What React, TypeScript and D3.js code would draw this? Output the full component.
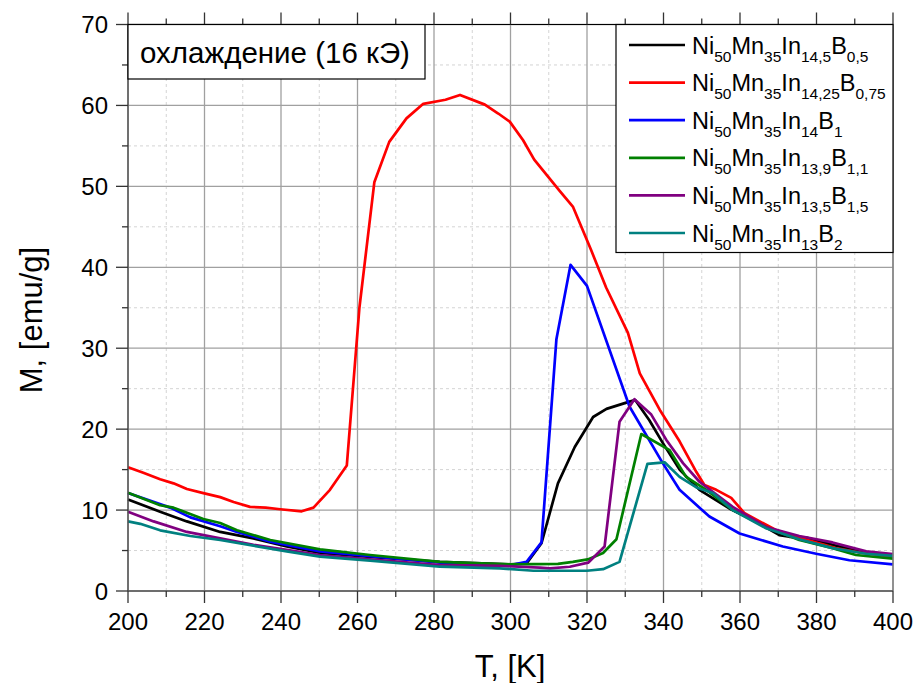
import React from "react";
import * as d3 from "d3";

const xTicks = [200, 220, 240, 260, 280, 300, 320, 340, 360, 380, 400];
const yTicks = [0, 10, 20, 30, 40, 50, 60, 70];

const tBlack = [200, 208.4, 215.4, 224.1, 232.8, 241.5, 250.2, 263.3, 281.5, 300, 304.2, 308.1, 312.4, 316.8, 321.6, 325.1, 331.1, 332.6, 336.3, 339.8, 344.2, 349.4, 357.2, 363.3, 370.3, 372.9, 377.3, 384.2, 391.2, 400];
const mBlack = [11.3, 9.8, 8.6, 7.3, 6.5, 5.5, 4.7, 4.2, 3.6, 3.3, 3.4, 5.9, 13.3, 17.8, 21.5, 22.5, 23.4, 23.6, 21.1, 18.3, 15.0, 12.5, 10.2, 8.8, 6.9, 6.7, 6.6, 5.7, 4.9, 4.3];

const tRed = [200, 204, 208.4, 211.9, 215.4, 219.7, 224.1, 227.6, 231.9, 236, 239.8, 245.4, 248.5, 252.8, 257.2, 260.5, 264.4, 268.3, 272.8, 277.2, 283, 286.8, 293.3, 296.8, 299.8, 303.3, 306.2, 312.9, 316.3, 321.1, 325, 330.7, 333.8, 339, 344.2, 348.6, 350.7, 353.8, 357.7, 361.2, 369.5, 377, 385, 392, 400];
const mRed = [15.3, 14.6, 13.8, 13.3, 12.6, 12.1, 11.6, 11.0, 10.4, 10.3, 10.1, 9.85, 10.3, 12.5, 15.5, 35.0, 50.5, 55.5, 58.4, 60.2, 60.7, 61.3, 60.1, 59.0, 58.0, 55.7, 53.3, 49.4, 47.5, 42.1, 37.5, 31.9, 26.9, 22.4, 18.5, 14.7, 13.1, 12.5, 11.5, 9.6, 7.5, 6.4, 5.3, 4.7, 4.2];

const tBlue = [200, 211, 216.3, 224.1, 228.5, 237.2, 250.2, 263.3, 281.5, 300, 304.2, 308.1, 312, 315.7, 320, 331.1, 339.8, 344.2, 352, 359.9, 371.2, 379.9, 388.6, 400];
const mBlue = [12.1, 10.3, 9.1, 8.0, 7.3, 6.1, 4.9, 4.3, 3.5, 3.2, 3.6, 6.0, 31.1, 40.3, 37.7, 22.8, 15.8, 12.5, 9.2, 7.1, 5.5, 4.6, 3.8, 3.3];

const tGreen = [200, 208.4, 211.9, 219.7, 224.1, 228.5, 237.2, 250.2, 263.3, 281.5, 299.8, 312.4, 316.3, 320.2, 324.2, 327.7, 334.2, 341.6, 345.9, 351.2, 358.1, 366.8, 375.5, 384.2, 390.3, 400];
const mGreen = [12.15, 10.6, 10.3, 8.9, 8.4, 7.5, 6.3, 5.15, 4.45, 3.6, 3.3, 3.35, 3.6, 3.9, 4.7, 6.4, 19.4, 17.4, 14.1, 12.5, 10.0, 7.9, 6.3, 5.3, 4.45, 4.0];

const tPurple = [200, 206.7, 215.4, 224.1, 232.8, 241.5, 250.2, 263.3, 281.5, 297.2, 307.7, 310.3, 315.5, 320.3, 324.6, 328.5, 332.4, 336.8, 340.7, 345.1, 349.4, 358.1, 366.8, 375.5, 384.2, 393, 400];
const mPurple = [9.8, 8.6, 7.3, 6.5, 5.7, 5.1, 4.45, 3.9, 3.2, 3.1, 2.9, 2.8, 3.0, 3.5, 5.5, 20.9, 23.7, 21.8, 18.7, 15.8, 13.5, 10.4, 7.9, 6.8, 6.0, 4.9, 4.55];

const tTeal = [200, 203.2, 208.4, 216.3, 224.1, 232.8, 241.5, 250.2, 263.3, 281.5, 297.2, 306, 320, 324.2, 328.5, 335.8, 340.3, 344.2, 348.6, 352.9, 358.1, 366.8, 375.5, 384.2, 393, 400];
const mTeal = [8.6, 8.3, 7.5, 6.8, 6.3, 5.6, 4.9, 4.25, 3.75, 3.0, 2.8, 2.5, 2.5, 2.7, 3.6, 15.7, 15.9, 14.1, 12.8, 12.1, 10.0, 7.75, 6.4, 5.3, 4.6, 4.35];

const seriesNames: [string, string][][] = [
  [["Ni", "50"], ["Mn", "35"], ["In", "14,5"], ["B", "0,5"]],
  [["Ni", "50"], ["Mn", "35"], ["In", "14,25"], ["B", "0,75"]],
  [["Ni", "50"], ["Mn", "35"], ["In", "14"], ["B", "1"]],
  [["Ni", "50"], ["Mn", "35"], ["In", "13,9"], ["B", "1,1"]],
  [["Ni", "50"], ["Mn", "35"], ["In", "13,5"], ["B", "1,5"]],
  [["Ni", "50"], ["Mn", "35"], ["In", "13"], ["B", "2"]],
];
const colors = ["#000000", "#ff0000", "#0000ff", "#008000", "#800080", "#008080"];
const seriesT = [tBlack, tRed, tBlue, tGreen, tPurple, tTeal];
const seriesM = [mBlack, mRed, mBlue, mGreen, mPurple, mTeal];

const FONT = "'Liberation Sans', Arial, sans-serif";

export default function App() {
  const W = 914, H = 683;
  const x = d3.scaleLinear().domain([200, 400]).range([128, 893]);
  const y = d3.scaleLinear().domain([0, 70]).range([591, 24.5]);
  const line = d3.line<[number, number]>().x(d => x(d[0])).y(d => y(d[1]));

  const xMinor = d3.range(200, 401, 10);
  const yMinor = d3.range(0, 71, 5);

  const legX = 616, legY = 24.5, legW = 277, legH = 228;
  const rowY = (i: number) => 45 + i * 37.6;

  return (
    <svg width={W} height={H} style={{ position: "absolute", left: 0, top: 0, background: "#fff" }} fontFamily={FONT}>
      <rect x={0} y={0} width={W} height={H} fill="#fff" />
      {xMinor.filter(v => v % 20 !== 0).map(v => (
        <line key={"gxm" + v} x1={x(v)} x2={x(v)} y1={y(0)} y2={y(70)} stroke="#d4d4d4" strokeDasharray="3,3" strokeWidth={1} />
      ))}
      {yMinor.filter(v => v % 10 !== 0).map(v => (
        <line key={"gym" + v} x1={x(200)} x2={x(400)} y1={y(v)} y2={y(v)} stroke="#d4d4d4" strokeDasharray="3,3" strokeWidth={1} />
      ))}
      {xTicks.map(v => (
        <line key={"gx" + v} x1={x(v)} x2={x(v)} y1={y(0)} y2={y(70)} stroke="#a0a0a0" strokeWidth={1.3} />
      ))}
      {yTicks.map(v => (
        <line key={"gy" + v} x1={x(200)} x2={x(400)} y1={y(v)} y2={y(v)} stroke="#a0a0a0" strokeWidth={1.3} />
      ))}
      {seriesT.map((ts, i) => (
        <path key={"s" + i} d={line(ts.map((t, j) => [t, seriesM[i][j]] as [number, number])) || ""} fill="none" stroke={colors[i]} strokeWidth={2.7} strokeLinejoin="round" />
      ))}
      <line x1={x(200)} x2={x(400)} y1={y(70)} y2={y(70)} stroke="#000" strokeWidth={1.2} />
      <line x1={x(400)} x2={x(400)} y1={y(0)} y2={y(70)} stroke="#808080" strokeWidth={1.5} />
      <line x1={x(200)} x2={x(400)} y1={y(0)} y2={y(0)} stroke="#555" strokeWidth={1.5} />
      <line x1={x(200)} x2={x(200)} y1={y(0)} y2={y(70)} stroke="#555" strokeWidth={1.5} />
      {xMinor.map(v => {
        const major = v % 20 === 0;
        const len = major ? 12 : 6;
        return (
          <g key={"xt" + v}>
            <line x1={x(v)} x2={x(v)} y1={y(0)} y2={y(0) + len} stroke="#333" strokeWidth={1.3} />
            <line x1={x(v)} x2={x(v)} y1={y(70)} y2={y(70) - len} stroke="#333" strokeWidth={1.3} />
          </g>
        );
      })}
      {yMinor.map(v => {
        const major = v % 10 === 0;
        const len = major ? 12 : 6;
        return <line key={"yt" + v} x1={x(200)} x2={x(200) - len} y1={y(v)} y2={y(v)} stroke="#333" strokeWidth={1.3} />;
      })}
      {xTicks.map(v => (
        <text key={"xl" + v} x={x(v)} y={630} fontSize={24} textAnchor="middle" fill="#000">{v}</text>
      ))}
      {yTicks.map(v => (
        <text key={"yl" + v} x={108} y={y(v) + 8.5} fontSize={24} textAnchor="end" fill="#000">{v}</text>
      ))}
      <text x={510} y={677} fontSize={31} textAnchor="middle" fill="#000">T, [K]</text>
      <text transform={`translate(42,320) rotate(-90)`} fontSize={31} textAnchor="middle" fill="#000">M, [emu/g]</text>
      <rect x={128} y={24.5} width={297} height={54.5} fill="#fff" stroke="#000" strokeWidth={1.2} />
      <text x={140} y={63} fontSize={29.5} fill="#000">охлаждение (16 кЭ)</text>
      <rect x={legX} y={legY} width={legW} height={legH} fill="#fff" stroke="#000" strokeWidth={1.2} />
      {seriesNames.map((parts, i) => {
        const cy = rowY(i);
        return (
          <g key={"lg" + i}>
            <line x1={629} x2={685} y1={cy} y2={cy} stroke={colors[i]} strokeWidth={2.7} />
            <text x={692} y={cy + 8.5} fontSize={23.5} fill="#000">
              {parts.map((p, k) => (
                <React.Fragment key={k}>
                  <tspan dy={k === 0 ? 0 : -8}>{p[0]}</tspan>
                  <tspan dy={8} fontSize={15.5}>{p[1]}</tspan>
                </React.Fragment>
              ))}
            </text>
          </g>
        );
      })}
    </svg>
  );
}
